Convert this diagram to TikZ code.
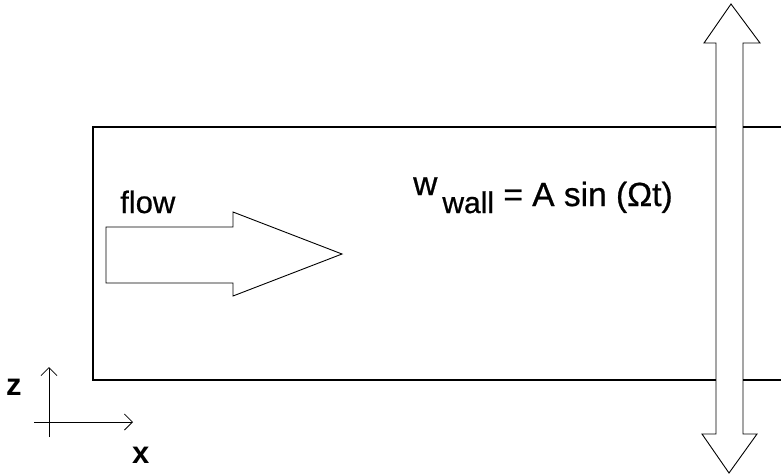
\documentclass[tikz,border=0pt]{standalone}
\usepackage{fontspec}
\setmainfont{Liberation Sans}
\newfontfamily\inkfont[FakeBold=0.7]{Liberation Sans}
\usetikzlibrary{arrows.meta}
\begin{document}
\begin{tikzpicture}[x=1pt,y=-1pt,
  wall/.style={line width=2.5pt,line cap=butt},
  outline/.style={line width=0.9pt,line join=miter},
  axis/.style={line width=0.8pt,-{Straight Barb[length=8pt,width=16pt,line width=0.8pt]}},
  lbl/.style={inner sep=0pt,font=\inkfont\fontsize{31}{35}\selectfont},
  eqlbl/.style={inner sep=0pt,font=\inkfont\fontsize{33.5}{38}\selectfont},
  axlbl/.style={inner sep=0pt,font=\fontsize{31}{35}\selectfont\bfseries}]
\useasboundingbox (0,0) rectangle (781,475);

% channel walls (open to the right, cut by the oscillation arrow)
\draw[wall] (716,127) -- (93,127) -- (93,380) -- (716,380);
\draw[wall] (743,127) -- (781,127);
\draw[wall] (743,380) -- (781,380);

% double-headed arrow: wall oscillation
\draw[outline] (731,4) -- (760,43) -- (743,43) -- (743,434) -- (757,434)
  -- (729,473) -- (702,434) -- (716,434) -- (716,43) -- (704,43) -- cycle;

% flow direction arrow
\draw[outline] (106,227) -- (233,227) -- (233,212) -- (342,254)
  -- (233,296) -- (233,283) -- (106,283) -- cycle;
\node[lbl,anchor=base west] (flowlbl) at (120,213) {flow};

% wall velocity
\node[eqlbl,anchor=base west] (wwall) at (413,206)
  {\raisebox{11pt}{w}\hspace{5pt}\raisebox{-7pt}{\fontsize{30}{34}\selectfont wall} = A sin (Ωt)};

% coordinate axes
\coordinate (zend) at (49,367);
\coordinate (xend) at (133,422);
\coordinate (zstart) at (49,437);
\coordinate (xstart) at (34,422);
\draw[axis] (zstart) -- (zend);
\draw[axis] (xstart) -- (xend);
\node[axlbl,anchor=base west] (zlbl) at (6,395) {z};
\node[axlbl,anchor=base west] (xlbl) at (132,463) {x};
\end{tikzpicture}
\end{document}
